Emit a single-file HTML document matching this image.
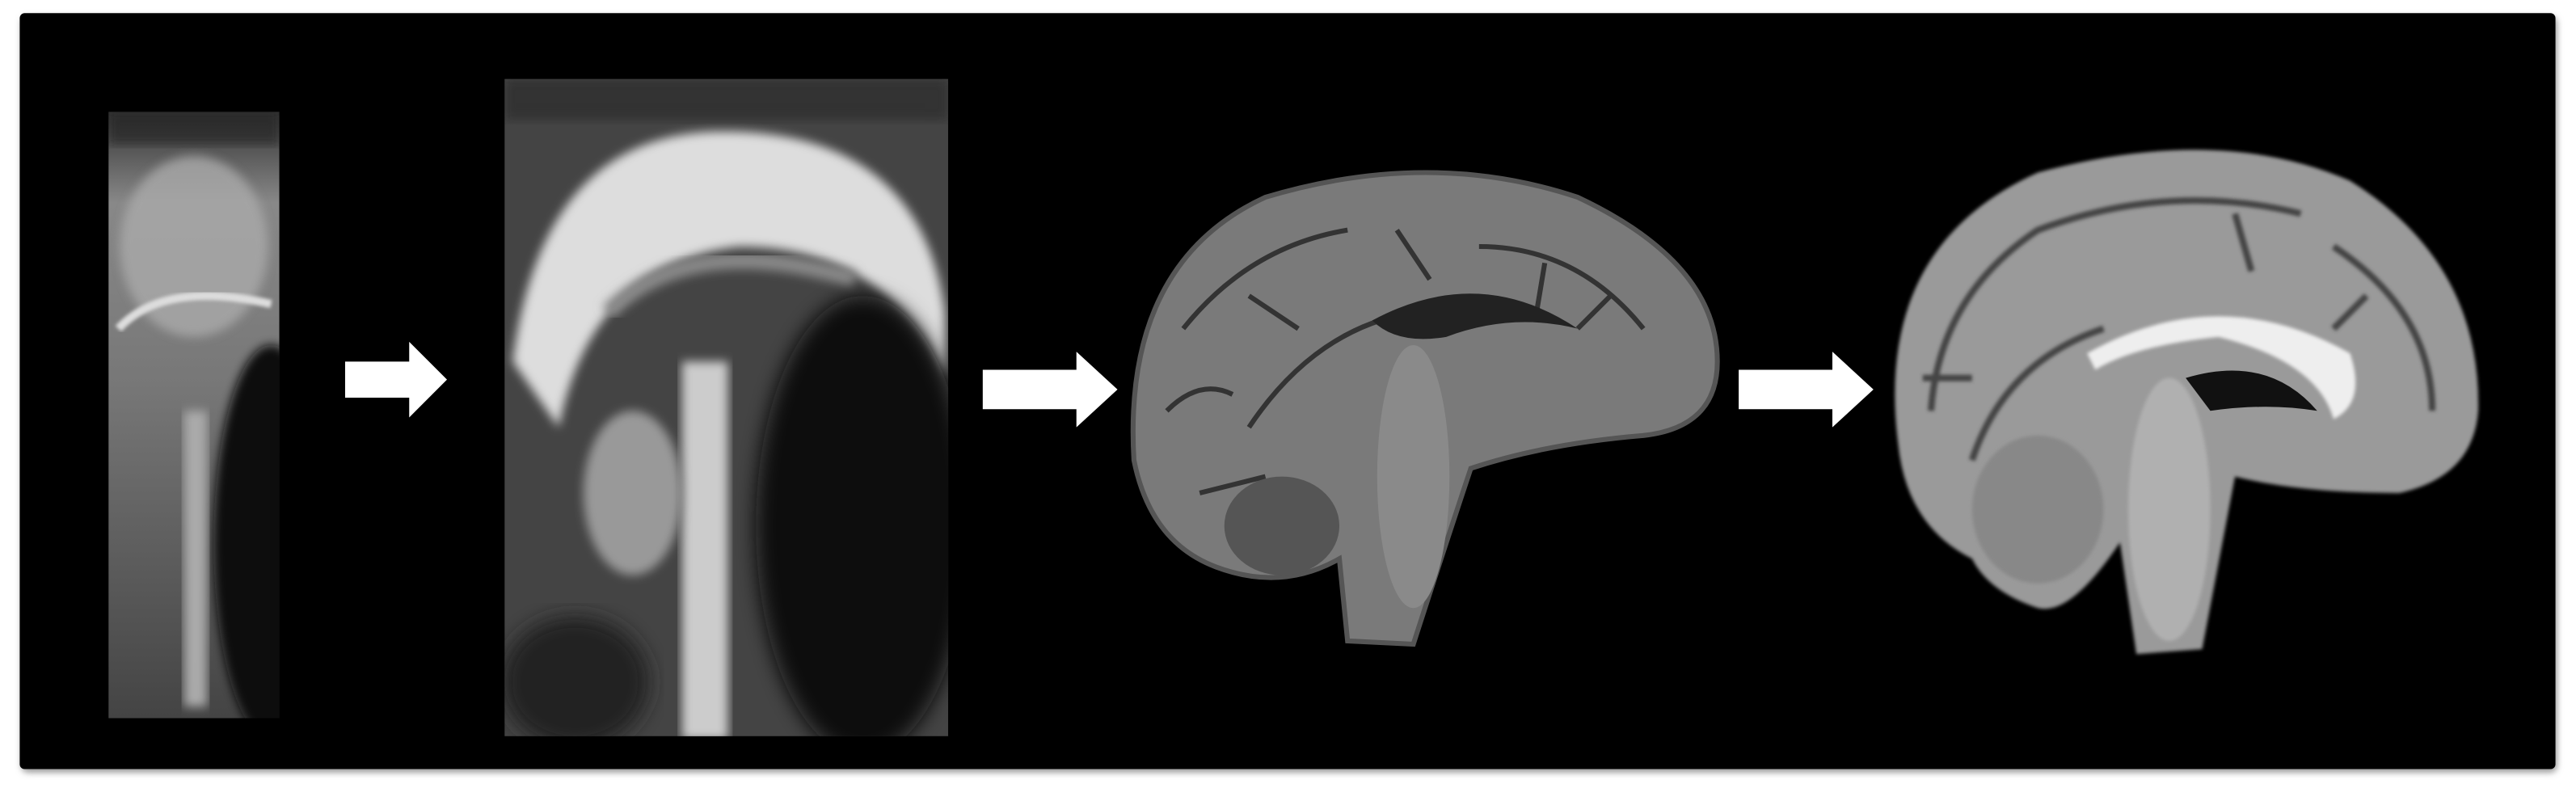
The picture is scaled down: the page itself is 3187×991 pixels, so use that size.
<!DOCTYPE html>
<html>
<head>
<meta charset="utf-8">
<style>
html,body{margin:0;padding:0;background:#fff;}
svg{display:block;}
</style>
</head>
<body>
<svg width="3187" height="991" viewBox="0 0 1567.5 487.4" xmlns="http://www.w3.org/2000/svg">
<defs>
  <filter id="sh" x="-5%" y="-5%" width="110%" height="115%"><feGaussianBlur stdDeviation="2"/></filter>
  <filter id="b1"><feGaussianBlur stdDeviation="3"/></filter>
  <filter id="b2"><feGaussianBlur stdDeviation="6"/></filter>
  <filter id="b05"><feGaussianBlur stdDeviation="1"/></filter>
  <clipPath id="c1"><rect x="66" y="68" width="104" height="369"/></clipPath>
  <clipPath id="c2"><rect x="307" y="48" width="270" height="400"/></clipPath>
  <linearGradient id="g1" x1="0" y1="0" x2="0" y2="1">
    <stop offset="0" stop-color="#333"/>
    <stop offset="0.15" stop-color="#888"/>
    <stop offset="0.45" stop-color="#777"/>
    <stop offset="1" stop-color="#444"/>
  </linearGradient>
</defs>

<rect x="13" y="10" width="1543" height="460" rx="4" fill="#999" filter="url(#sh)"/>
<rect x="12" y="8" width="1543" height="460" rx="3" fill="#000"/>

<g clip-path="url(#c1)">
  <rect x="66" y="68" width="104" height="369" fill="url(#g1)"/>
  <ellipse cx="118" cy="150" rx="45" ry="55" fill="#aaa" filter="url(#b1)" opacity="0.8"/>
  <path d="M72 200 Q100 170 165 185" stroke="#ddd" stroke-width="5" fill="none" filter="url(#b05)"/>
  <ellipse cx="165" cy="330" rx="35" ry="120" fill="#111" filter="url(#b1)"/>
  <rect x="112" y="250" width="14" height="180" fill="#aaa" filter="url(#b1)"/>
  <rect x="66" y="68" width="104" height="20" fill="#222" opacity="0.6" filter="url(#b1)"/>
</g>

<polygon points="210,220 249,220 249,208 272,231 249,254 249,242 210,242" fill="#fff"/>

<g clip-path="url(#c2)">
  <rect x="307" y="48" width="270" height="400" fill="#444"/>
  <path d="M312 220 Q330 80 440 80 Q560 80 575 190 L575 230 Q540 150 450 150 Q360 160 340 260 Z" fill="#ddd" filter="url(#b1)"/>
  <path d="M370 190 Q420 140 520 170" stroke="#888" stroke-width="10" fill="none" filter="url(#b1)"/>
  <ellipse cx="525" cy="320" rx="65" ry="140" fill="#111" filter="url(#b2)"/>
  <rect x="415" y="220" width="28" height="230" fill="#ccc" filter="url(#b1)"/>
  <ellipse cx="385" cy="300" rx="30" ry="50" fill="#999" filter="url(#b1)"/>
  <ellipse cx="350" cy="415" rx="45" ry="40" fill="#222" filter="url(#b2)"/>
  <rect x="307" y="48" width="270" height="25" fill="#222" opacity="0.5" filter="url(#b1)"/>
</g>

<polygon points="598,225 655,225 655,214 680,237 655,260 655,249 598,249" fill="#fff"/>

<g>
  <path d="M690 280 Q683 160 770 120 Q870 90 960 120 Q1045 160 1045 220 Q1045 260 1000 265 Q940 270 895 285 Q880 330 860 392 L820 390 L815 340 Q780 360 740 345 Q700 330 690 280 Z" fill="#7a7a7a" stroke="#555" stroke-width="3"/>
  <path d="M720 200 Q760 150 820 140 M760 260 Q800 200 860 190 M900 150 Q960 150 1000 200 M710 250 Q730 230 750 240 M850 140 L870 170 M940 160 L935 190 M980 180 L960 200 M760 180 L790 200 M730 300 L770 290" stroke="#333" stroke-width="3" fill="none"/>
  <path d="M835 195 Q900 160 960 200 Q920 190 880 205 Q850 210 835 195 Z" fill="#222"/>
  <ellipse cx="860" cy="290" rx="22" ry="80" fill="#8a8a8a"/>
  <ellipse cx="780" cy="320" rx="35" ry="30" fill="#555"/>
</g>

<polygon points="1058,225 1115,225 1115,214 1140,237 1115,260 1115,249 1058,249" fill="#fff"/>

<g>
  <path d="M1155 270 Q1140 150 1240 105 Q1350 75 1430 110 Q1510 160 1508 250 Q1505 290 1460 300 Q1400 300 1360 290 L1340 395 L1300 398 L1290 330 Q1260 375 1240 370 Q1210 360 1200 340 Q1160 320 1155 270 Z" fill="#9a9a9a" filter="url(#b05)"/>
  <path d="M1175 250 Q1180 180 1240 140 Q1320 110 1400 130 M1200 280 Q1220 220 1280 200 M1420 150 Q1480 190 1480 250 M1170 230 L1200 230 M1360 130 L1370 165 M1440 180 L1420 200" stroke="#444" stroke-width="4" fill="none" filter="url(#b05)"/>
  <path d="M1270 215 Q1350 170 1430 215 Q1440 245 1420 255 Q1410 220 1350 205 Q1300 210 1275 225 Z" fill="#eee" filter="url(#b05)"/>
  <path d="M1330 230 Q1380 215 1410 250 Q1380 245 1345 250 Z" fill="#111"/>
  <ellipse cx="1320" cy="310" rx="25" ry="80" fill="#b0b0b0" filter="url(#b05)"/>
  <ellipse cx="1240" cy="310" rx="40" ry="45" fill="#888" filter="url(#b05)"/>
</g>
</svg>
</body>
</html>
